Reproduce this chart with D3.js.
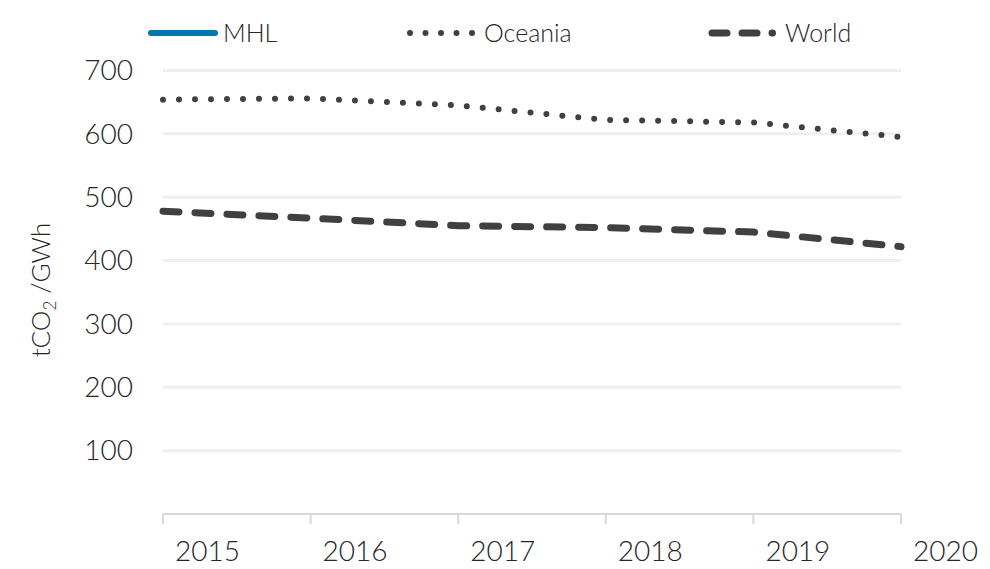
<!DOCTYPE html>
<html>
<head>
<meta charset="utf-8">
<script src="https://cdn.jsdelivr.net/npm/d3@7"></script>
<style>
  body { margin: 0; background: #fff; }
  svg text { font-family: "Lato", "Open Sans", sans-serif; font-weight: 300; fill: #262626; }
</style>
</head>
<body>
<div id="chart"></div>
<script>
// Data
const years = [2015, 2016, 2017, 2018, 2019, 2020];
const mhlValues = [null, null, null, null, null, null];
const oceaniaValues = [654, 656, 645, 622, 618, 595];
const worldValues = [478, 467, 455, 452, 445, 422];
const yTicks = [100, 200, 300, 400, 500, 600, 700];

const width = 990, height = 569;
const margin = { top: 70, right: 89, bottom: 55, left: 163 };

const svg = d3.select("#chart").append("svg")
  .attr("width", width)
  .attr("height", height);

const x = d3.scalePoint()
  .domain(years)
  .range([margin.left, width - margin.right]);

const y = d3.scaleLinear()
  .domain([0, 700])
  .range([514, 70.5]);

// Gridlines
svg.append("g")
  .selectAll("line")
  .data(yTicks)
  .join("line")
  .attr("x1", margin.left)
  .attr("x2", width - margin.right)
  .attr("y1", d => y(d))
  .attr("y2", d => y(d))
  .attr("stroke", "#efefef")
  .attr("stroke-width", 3);

// Y labels
svg.append("g")
  .selectAll("text")
  .data(yTicks)
  .join("text")
  .attr("x", 133)
  .attr("y", d => y(d))
  .attr("dy", "0.35em")
  .attr("text-anchor", "end")
  .style("font-size", "28px")
  .text(d => d);

// X axis line and ticks
svg.append("line")
  .attr("x1", margin.left)
  .attr("x2", width - margin.right)
  .attr("y1", y(0))
  .attr("y2", y(0))
  .attr("stroke", "#d9d9d9")
  .attr("stroke-width", 2);

svg.append("g")
  .selectAll("line")
  .data(years)
  .join("line")
  .attr("x1", d => x(d))
  .attr("x2", d => x(d))
  .attr("y1", y(0))
  .attr("y2", y(0) + 10)
  .attr("stroke", "#d9d9d9")
  .attr("stroke-width", 2);

svg.append("g")
  .selectAll("text")
  .data(years)
  .join("text")
  .attr("x", d => x(d) + 12)
  .attr("y", 561)
  .style("font-size", "28px")
  .text(d => d);

// Y axis title
const title = svg.append("text")
  .attr("transform", "translate(50, 290) rotate(-90)")
  .attr("text-anchor", "middle")
  .style("font-size", "26px");
title.append("tspan").text("tCO");
title.append("tspan").attr("dy", 6).style("font-size", "17px").text("2");
title.append("tspan").attr("dy", -6).text(" /GWh");

// Lines
const line = d3.line()
  .defined(d => d != null)
  .x((d, i) => x(years[i]))
  .y(d => y(d));

const series = [
  { name: "MHL", values: mhlValues, color: "#0077b0", width: 6, dash: null, cap: "round" },
  { name: "Oceania", values: oceaniaValues, color: "#404040", width: 6, dash: "0 16", cap: "round" },
  { name: "World", values: worldValues, color: "#404040", width: 7, dash: "16 16", cap: "round" }
];

svg.append("g")
  .selectAll("path")
  .data(series)
  .join("path")
  .attr("d", d => line(d.values))
  .attr("fill", "none")
  .attr("stroke", d => d.color)
  .attr("stroke-width", d => d.width)
  .attr("stroke-dasharray", d => d.dash)
  .attr("stroke-linecap", d => d.cap);

// Legend
const legendX = [151, 410, 712];
const legendDash = [null, "0 15.5", "15 15"];
const legend = svg.append("g")
  .selectAll("g")
  .data(series)
  .join("g")
  .attr("transform", (d, i) => `translate(${legendX[i]}, 33)`);

legend.append("line")
  .attr("x1", 0)
  .attr("x2", (d, i) => [64, 62.5, 60.5][i])
  .attr("y1", 0)
  .attr("y2", 0)
  .attr("stroke", d => d.color)
  .attr("stroke-width", d => d.width)
  .attr("stroke-dasharray", (d, i) => legendDash[i])
  .attr("stroke-linecap", d => d.cap);

legend.append("text")
  .attr("x", (d, i) => [72, 74, 73][i])
  .attr("dy", "0.35em")
  .style("font-size", "25px")
  .text(d => d.name);
</script>
</body>
</html>
